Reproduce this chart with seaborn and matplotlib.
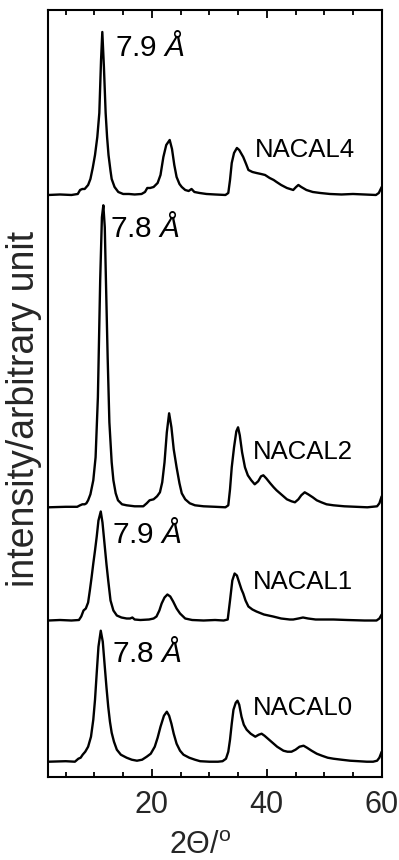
import numpy as np
import pandas as pd
import matplotlib
matplotlib.use("Agg")
import matplotlib.pyplot as plt
from matplotlib.ticker import MultipleLocator, NullFormatter
import seaborn as sns

# ---------------- data ----------------
samples = ["NACAL0", "NACAL1", "NACAL2", "NACAL4"]
spacings = ["7.8 Å", "7.9 Å", "7.8 Å", "7.9 Å"]
offsets = [15.3, 156.5, 269.7, 582.0]

theta_nacal0 = [2.0, 5.0, 6.6, 7.2, 7.6, 7.95, 8.4, 8.9, 9.4, 9.8, 10.1, 10.4, 10.7, 11.1, 11.45,
                11.8, 12.1, 12.4, 12.7, 13.0, 13.4, 13.9, 14.6, 15.6, 16.5, 17.4, 18.3, 19.1, 19.8,
                20.5, 21.0, 21.5, 22.1, 22.6, 23.0, 23.4, 23.8, 24.3, 24.9, 25.5, 26.5, 27.5, 28.4,
                30.0, 31.5, 32.3, 32.9, 33.3, 33.6, 33.9, 34.2, 34.6, 34.9, 35.2, 35.6, 36.0, 36.5,
                37.2, 38.0, 38.6, 39.1, 39.6, 40.2, 40.8, 41.8, 42.9, 43.6, 44.3, 45.0, 45.7, 46.4,
                47.0, 47.8, 48.7, 49.6, 50.6, 51.6, 53.0, 54.5, 56.0, 57.4, 58.5, 59.2, 59.6, 60.0]
int_nacal0 = [0, 0.5, 0, 3, 4, 7, 10, 15, 25, 42, 62, 89, 115, 131, 120,
              95, 74, 55, 40, 29, 20, 12, 7, 4, 2, 1, 2, 5, 8,
              15, 24, 35, 46, 50, 46, 38, 28, 18, 11, 7, 4, 2, 0.5,
              0, 0, 0.5, 3, 10, 22, 38, 52, 59, 61, 57, 45, 37, 32,
              28, 25, 27, 28, 26, 23, 20, 15, 11, 10, 10, 12, 15, 16,
              14, 11, 8, 6, 4, 3, 2, 1, 0.5, 0, 0, 1, 4, 10]

theta_nacal1 = [2.0, 4.0, 6.0, 7.3, 7.7, 8.1, 8.5, 8.9, 9.2, 9.5, 9.8, 10.1, 10.4, 10.7, 11.1,
                11.4, 11.8, 12.1, 12.4, 12.8, 13.3, 13.9, 14.7, 15.6, 16.2, 16.6, 17.0, 18.0, 19.5,
                20.3, 20.8, 21.3, 21.7, 22.2, 22.7, 23.2, 23.7, 24.3, 24.9, 25.8, 27.0, 29.0, 31.0,
                32.5, 33.2, 33.6, 34.0, 34.4, 34.8, 35.2, 35.6, 35.9, 36.3, 36.8, 37.5, 38.2, 39.5,
                41.1, 42.5, 44.0, 44.6, 45.5, 46.3, 47.2, 48.5, 51.6, 54.0, 57.0, 59.1, 59.6, 60.0]
int_nacal1 = [0, 0.5, 0, 0.5, 4, 10, 12, 18, 30, 43, 57, 70, 84, 100, 109,
              98, 74, 56, 40, 20, 10, 5, 3, 2, 2, 3, 1, 0.5, 1,
              2, 4, 10, 17, 23, 26, 24, 19, 12, 7, 2, 0.5, 0, 0.5,
              0, 1, 20, 40, 47, 45, 38, 31, 27, 20, 14, 11, 9, 6,
              4, 2, 1, 1, 2, 3, 2, 1, 1, 0.5, 0, 0, 2, 6]

theta_nacal2 = [2.0, 5.0, 7.0, 7.5, 7.9, 8.3, 8.6, 8.9, 9.3, 9.8, 10.2, 10.6, 11.0, 11.3, 11.55,
                11.8, 12.0, 12.3, 12.6, 13.0, 13.3, 13.7, 14.1, 14.8, 15.6, 17.0, 18.5, 19.1, 19.6,
                20.3, 20.9, 21.4, 21.8, 22.2, 22.6, 23.0, 23.4, 23.8, 24.3, 24.8, 25.2, 25.8, 26.6,
                27.5, 29.0, 31.0, 32.8, 33.3, 33.6, 33.9, 34.3, 34.7, 35.0, 35.3, 35.7, 36.2, 36.7,
                37.3, 37.9, 38.5, 39.0, 39.4, 39.9, 40.6, 41.2, 41.7, 42.5, 43.5, 44.3, 44.9, 45.5,
                46.0, 46.6, 47.2, 48.0, 48.7, 49.5, 50.4, 51.6, 53.5, 55.5, 57.5, 59.2, 59.6, 60.0]
int_nacal2 = [0, 0.5, 0.5, 2, 3, 3, 4, 7, 13, 27, 50, 110, 227, 290, 302,
              280, 227, 150, 85, 45, 27, 14, 7, 3, 2, 1, 1, 4, 7,
              8, 11, 15, 25, 45, 75, 94, 80, 58, 40, 24, 14, 8, 4,
              2, 1, 0.5, 0, 2, 18, 40, 60, 76, 80, 72, 55, 40, 32,
              27, 23, 26, 31, 32, 29, 24, 20, 17, 13, 8, 6, 5, 8,
              12, 15, 13, 10, 7, 5, 3, 2, 1, 0.5, 0, 1, 4, 11]

theta_nacal4 = [2.0, 4.0, 6.0, 7.1, 7.5, 7.9, 8.3, 8.6, 8.9, 9.3, 9.7, 10.1, 10.5, 10.85, 11.15,
                11.37, 11.65, 11.95, 12.2, 12.45, 12.8, 13.0, 13.5, 14.15, 15.0, 16.0, 17.0, 18.2,
                18.8, 19.2, 19.7, 20.3, 21.0, 21.5, 22.0, 22.5, 23.1, 23.5, 23.9, 24.3, 24.8, 25.2,
                25.8, 26.4, 26.9, 27.4, 28.3, 29.5, 31.0, 32.8, 33.3, 33.6, 33.9, 34.3, 34.8, 35.2,
                35.9, 36.4, 36.8, 37.5, 38.2, 39.0, 39.7, 40.5, 41.2, 41.7, 42.5, 43.5, 44.6, 45.1,
                45.5, 46.0, 46.9, 48.0, 49.3, 51.0, 53.0, 55.0, 57.0, 59.0, 59.5, 60.0]
int_nacal4 = [0, 0.5, 0, 1, 5, 6, 6, 8, 10, 16, 27, 40, 58, 82, 135,
              163, 128, 82, 58, 40, 24, 16, 8, 3, 1, 1, 0.5, 1,
              3, 7, 7, 8, 12, 20, 38, 50, 55, 46, 30, 18, 11, 8,
              5, 4, 6, 3, 2, 1, 0.5, 0, 2, 15, 32, 42, 47, 45,
              38, 31, 25, 23, 22, 21, 20, 17, 15, 13, 10, 7, 5, 8,
              10, 8, 5, 3, 2, 1, 0.5, 1, 0.5, 0, 2, 8]

thetas = [theta_nacal0, theta_nacal1, theta_nacal2, theta_nacal4]
intensities = [int_nacal0, int_nacal1, int_nacal2, int_nacal4]

# label anchor positions (2theta, y in stacked units)
spacing_pos = [(13.0, 124.5), (13.0, 243.0), (12.7, 549.0), (13.6, 730.0)]
name_pos = [(37.5, 68.7), (37.5, 195.0), (37.5, 325.0), (37.9, 626.5)]

# ---------------- build long-form frame ----------------
frames = []
for name, th, it, off in zip(samples, thetas, intensities, offsets):
    frames.append(pd.DataFrame({"theta": th,
                                "y": np.asarray(it, dtype=float) + off,
                                "sample": name}))
df = pd.concat(frames, ignore_index=True)

# ---------------- style ----------------
sns.set_theme(style="ticks")
plt.rcParams["font.family"] = ["Liberation Sans", "DejaVu Sans"]
plt.rcParams["mathtext.fontset"] = "custom"
plt.rcParams["mathtext.rm"] = "Liberation Sans"
plt.rcParams["mathtext.it"] = "Liberation Sans:italic"

fig = plt.figure(figsize=(3.99, 8.6), dpi=100)
ax = fig.add_axes([0.1215, 0.0965, 0.9566 - 0.1215, 0.9884 - 0.0965])

sns.lineplot(data=df, x="theta", y="y", hue="sample", units="sample",
             estimator=None, sort=False, palette=["black"] * 4,
             linewidth=1.7, legend=False, ax=ax)

ax.set_xlim(2, 60)
ax.set_ylim(0, 767)
ax.set_yticks([])
ax.xaxis.set_major_locator(MultipleLocator(20))
ax.xaxis.set_minor_locator(MultipleLocator(5))
ax.xaxis.set_minor_formatter(NullFormatter())
ax.tick_params(axis="x", which="both", direction="in", top=True, bottom=True,
               width=1.3, color="black", labelsize=22, pad=9)
ax.tick_params(axis="x", which="major", length=6)
ax.tick_params(axis="x", which="minor", length=3.8)
for s in ax.spines.values():
    s.set_visible(True)
    s.set_linewidth(1.5)
    s.set_color("black")

ax.set_xlabel(r"2Θ/$^{\mathrm{o}}$", fontsize=22, labelpad=8)
ax.xaxis.label.set_x(0.454)
ax.set_ylabel("intensity/arbitrary unit", fontsize=27)
ax.yaxis.set_label_coords(-0.02, 0.48)

for (sx, sy), lab in zip(spacing_pos, spacings):
    num, unit = lab.split(" ")
    ax.text(sx, sy, num + r" $\mathit{" + unit + "}$", fontsize=21.5,
            ha="left", va="center", color="black")
for (nx, ny), name in zip(name_pos, samples):
    ax.text(nx, ny, name, fontsize=18.5, ha="left", va="center", color="black")

fig.savefig("out.png", dpi=100, facecolor="white")
